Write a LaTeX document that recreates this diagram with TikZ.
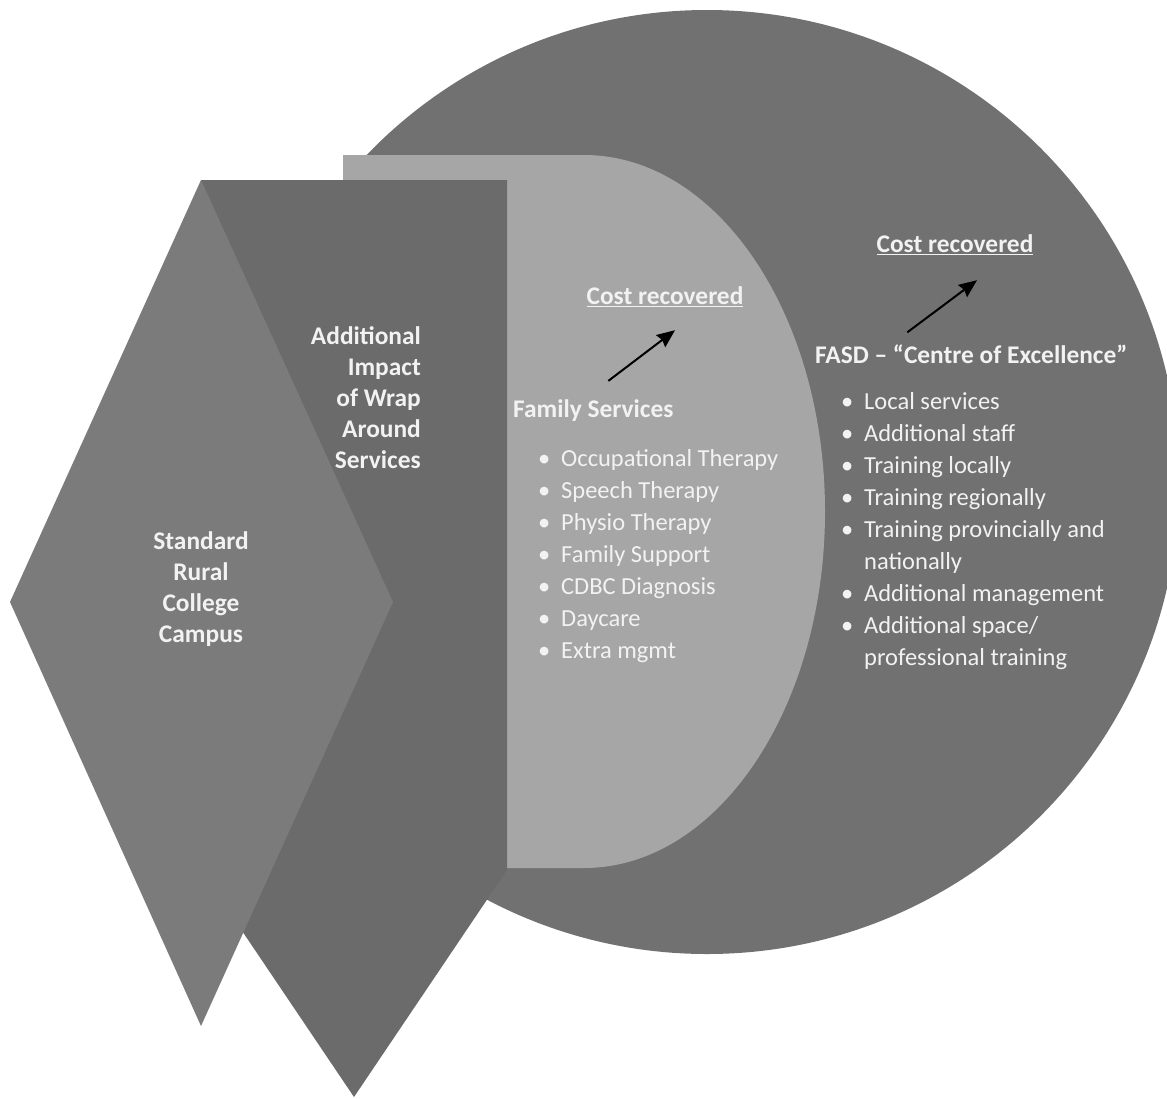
\documentclass[tikz,border=0pt]{standalone}
\usepackage{fontspec}
\setmainfont{Carlito}
\usetikzlibrary{arrows.meta,positioning}

\definecolor{circgray}{HTML}{717171}
\definecolor{dgray}{HTML}{A6A6A6}
\definecolor{pentgray}{HTML}{6B6B6B}
\definecolor{diagray}{HTML}{7B7B7B}
\definecolor{txt}{HTML}{F2F2F2}

\newcommand{\listdot}{\makebox[23pt][l]{\textbullet}}
\newcommand{\listgap}{\makebox[23pt]{}}

\begin{document}
\begin{tikzpicture}[x=1pt,y=-1pt,>={Stealth[length=18pt,width=15pt,inset=2pt]},
  every node/.style={text=txt,inner sep=0pt,font=\fontsize{24.5}{32}\selectfont}]

    \tikzstyle{head}=[font=\fontsize{25.4}{31}\selectfont\bfseries]
    \tikzstyle{lst}=[align=left,anchor=base west]
    \tikzstyle{arr}=[->,draw=black,line width=2pt]

    \useasboundingbox (0,0) rectangle (1167,1098);

    % shapes, back to front
    \fill[circgray] (707,482) circle [radius=472];
    \fill[dgray] (343,155) -- (584,155)
      arc [start angle=-90,end angle=90,x radius=241,y radius=356.5] -- (343,868) -- cycle;
    \fill[pentgray] (201,180) -- (507,180) -- (507,870) -- (354,1097) -- (201,870) -- cycle;
    \fill[diagray] (201,180) -- (393,602) -- (201,1026) -- (10,602) -- cycle;

    \node[head,align=center] (campus) at (201,589) {Standard\\Rural\\College\\Campus};
    \node[head,align=right,anchor=east] (wrap) at (421,398) {Additional\\Impact\\of Wrap\\Around\\Services};

    \node[head,anchor=west] (fam) at (513,411) {Family Services};
    \node[head] (cost1) at (665,297) {\underline{Cost recovered}};
    % base = baseline of the last line
    \node[lst] (famlist) at (538,658) {\listdot Occupational Therapy\\ \listdot Speech Therapy\\
      \listdot Physio Therapy\\ \listdot Family Support\\ \listdot CDBC Diagnosis\\
      \listdot Daycare\\ \listdot Extra mgmt};

    \node[head,anchor=west] (fasd) at (815,354) {FASD – “Centre of Excellence”};
    \node[head] (cost2) at (955,245) {\underline{Cost recovered}};
    \node[lst] (fasdlist) at (841,665) {\listdot Local services\\ \listdot Additional staff\\
      \listdot Training locally\\ \listdot Training regionally\\
      \listdot Training provincially and\\ \listgap nationally\\
      \listdot Additional management\\ \listdot Additional space/\\ \listgap professional training};

    \draw[arr] ([xshift=15pt,yshift=19pt]fam.north) -- ([xshift=10pt,yshift=-23pt]cost1.south);
    \draw[arr] ([xshift=-64pt,yshift=12pt]fasd.north) -- ([xshift=22pt,yshift=-25pt]cost2.south);

\end{tikzpicture}
\end{document}
